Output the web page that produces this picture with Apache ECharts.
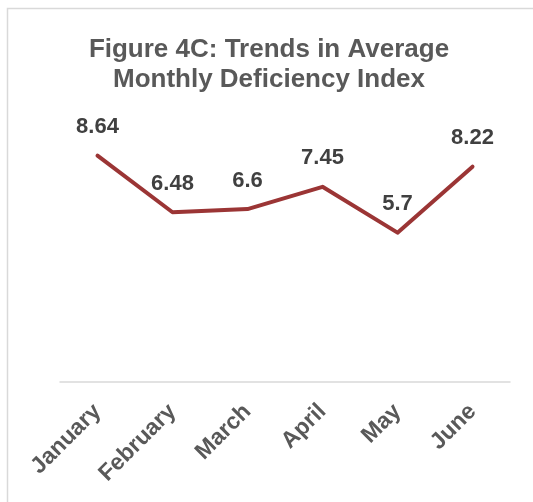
<!DOCTYPE html>
<html><head><meta charset="utf-8">
<script src="https://cdn.jsdelivr.net/npm/echarts@6/dist/echarts.min.js"></script>
<style>html,body{margin:0;padding:0;background:#fff}#c{width:533px;height:502px}</style>
</head><body><div id="c"></div>
<script>
const categories = ["January","February","March","April","May","June"];
const values = [8.64, 6.48, 6.6, 7.45, 5.7, 8.22];
const titleText = "Figure 4C: Trends in Average\nMonthly Deficiency Index";

const chart = echarts.init(document.getElementById('c'), null, {renderer:'canvas'});
chart.setOption({
  backgroundColor:'#fff',
  animation:false,
  title:{
    text:titleText, left:264, top:30, textAlign:'center',
    textStyle:{fontFamily:'Liberation Sans, Arial', fontSize:26, fontWeight:'bold', color:'#595959', lineHeight:30}
  },
  graphic:[{type:'rect', shape:{x:7.5,y:8.5,width:600,height:600}, style:{fill:'none', stroke:'#d9d9d9', lineWidth:1.5}, silent:true}],
  grid:{left:60, right:23, top:120, bottom:120, containLabel:false},
  xAxis:{
    type:'category', data:categories, boundaryGap:true,
    axisLine:{lineStyle:{color:'#d9d9d9', width:1.5}},
    axisTick:{show:false},
    axisLabel:{rotate:45, margin:26, interval:0, fontFamily:'Liberation Sans, Arial', fontSize:23, fontWeight:'bold', color:'#595959'}
  },
  yAxis:{type:'value', min:0, max:10, show:false, splitLine:{show:false}},
  series:[{
    type:'line', data:values, symbol:'circle', symbolSize:1, showSymbol:true,
    itemStyle:{color:'#9b3535', opacity:0},
    lineStyle:{color:'#9b3535', width:4, join:'round', cap:'round'},
    label:{show:true, position:'top', distance:17, fontFamily:'Liberation Sans, Arial', fontSize:22, fontWeight:'bold', color:'#404040', opacity:1}
  }]
});
</script></body></html>
